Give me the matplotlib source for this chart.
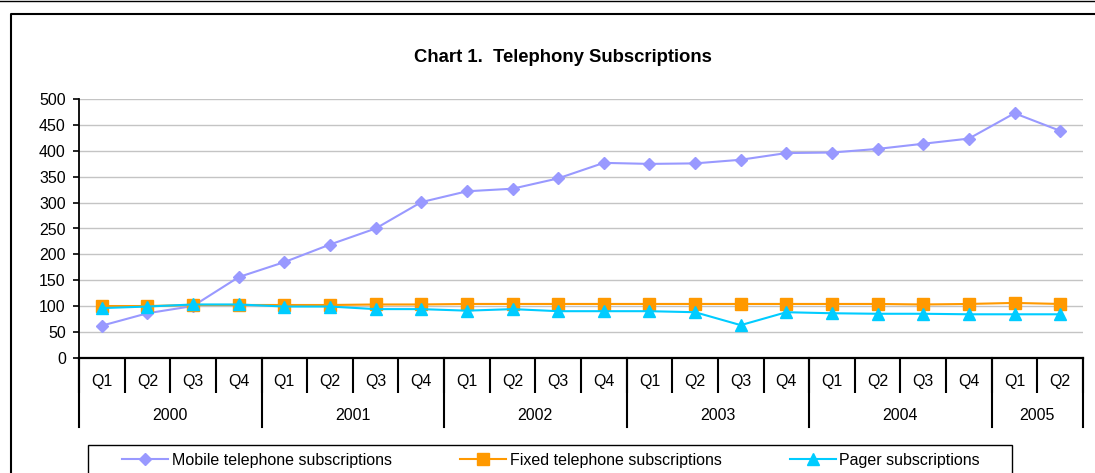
import numpy as np
import matplotlib
matplotlib.use("Agg")
from matplotlib import pyplot as plt
from matplotlib.lines import Line2D
from matplotlib.patches import Rectangle

plt.rcParams['font.family'] = ['Liberation Sans', 'DejaVu Sans']

# data (quarterly, 2000 Q1 .. 2005 Q2)
years = ['2000', '2001', '2002', '2003', '2004', '2005']
quarters_per_year = [4, 4, 4, 4, 4, 2]
quarter_labels = ['Q1', 'Q2', 'Q3', 'Q4'] * 5 + ['Q1', 'Q2']

mobile = [62, 86, 100, 156, 185, 219, 250, 301, 322, 327, 347, 377,
          375, 376, 383, 396, 397, 404, 414, 424, 473, 439]
fixed = [100, 100, 102, 102, 102, 102, 103, 103, 104, 104, 104, 104,
         104, 104, 104, 104, 104, 104, 103, 104, 106, 104]
pager = [96, 99, 103, 103, 99, 99, 94, 94, 91, 94, 90, 90,
         90, 88, 63, 88, 86, 85, 85, 84, 84, 84]

W, H = 1095, 473
fig = plt.figure(figsize=(W / 100, H / 100), dpi=100)
ax = fig.add_axes([79 / W, 1 - 357.7 / H, 1004 / W, 258.4 / H])

x = np.arange(len(mobile))
ax.plot(x, mobile, color='#9999FF', lw=1.5, marker='D', ms=6, label='Mobile telephone subscriptions')
ax.plot(x, fixed, color='#FF9900', lw=1.5, marker='s', ms=9, label='Fixed telephone subscriptions')
ax.plot(x, pager, color='#00CCFF', lw=1.5, marker='^', ms=9, label='Pager subscriptions')

ax.set_xlim(-0.5, len(mobile) - 0.5)
ax.set_ylim(0, 500)
ax.set_yticks(np.arange(0, 501, 50))
ax.yaxis.grid(True, color='#C4C4C4', lw=1)
ax.set_axisbelow(True)
ax.tick_params(axis='y', labelsize=11.5, length=4, width=1.2, direction='out', pad=5.5)

for s in ['top', 'right']:
    ax.spines[s].set_visible(False)
ax.spines['left'].set_linewidth(1.3)
ax.spines['bottom'].set_linewidth(1.6)

# quarter separators (minor ticks) and labels
ax.set_xticks([])
ax.set_xticks(np.arange(-0.5, len(mobile)), minor=True)
ax.tick_params(axis='x', which='minor', length=25.2, width=1.5)
trans = ax.get_xaxis_transform()
for i, q in enumerate(quarter_labels):
    ax.text(i, -0.1095, q, transform=trans, ha='center', va='baseline', fontsize=11.5)

# year labels and separators
start = -0.5
for yr, n in zip(years, quarters_per_year):
    ax.plot([start, start], [0, -0.267], transform=trans, color='black', lw=1.5, clip_on=False)
    ax.text(start + n / 2, -0.241, yr, transform=trans, ha='center', va='baseline', fontsize=11.5)
    start += n
ax.plot([start, start], [0, -0.267], transform=trans, color='black', lw=1.5, clip_on=False)

fig.text(563 / W, 1 - 62.3 / H, 'Chart 1.  Telephony Subscriptions', ha='center', va='baseline',
         fontsize=13.3, fontweight='bold')

# legend: entries centred, frame drawn separately
fig.legend(loc='center', bbox_to_anchor=(551 / W, 1 - 460 / H), ncol=3, frameon=False,
           fontsize=11.5, handlelength=2.88, handletextpad=0.25, columnspacing=4.25,
           borderaxespad=0, borderpad=0)
fig.add_artist(Rectangle((88 / W, -0.05), (1012 - 88) / W, 1 - 445.3 / H + 0.05, fill=False,
                         edgecolor='black', lw=1, transform=fig.transFigure))

# outer frame
fig.add_artist(Line2D([0, 1], [1 - 1 / H, 1 - 1 / H], color='black', lw=1, transform=fig.transFigure))
fig.add_artist(Line2D([10.5 / W, 10.5 / W, 1.01], [-0.01, 1 - 14 / H, 1 - 14 / H],
                      color='black', lw=1.5, transform=fig.transFigure))

fig.savefig('out.png', dpi=100)
